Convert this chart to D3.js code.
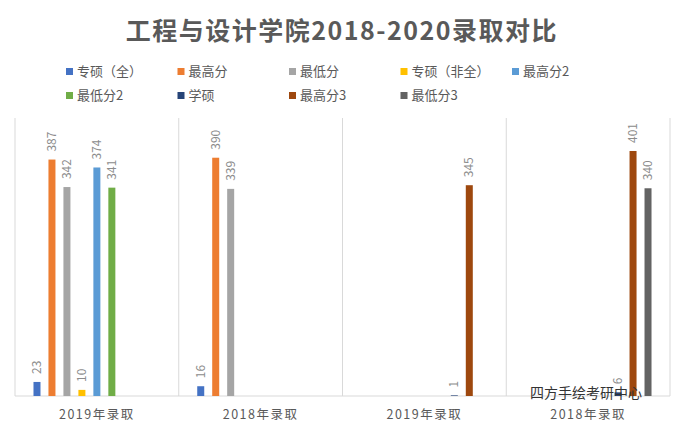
<!DOCTYPE html><html><head><meta charset="utf-8"><script src="https://cdn.jsdelivr.net/npm/d3@7"></script>
<style>body{margin:0;background:#fff}</style></head><body><svg id="c" width="684" height="432"></svg><script>
const categories=["2019年录取","2018年录取","2019年录取","2018年录取"];
const seriesNames=["专硕（全）","最高分","最低分","专硕（非全）","最高分2","最低分2","学硕","最高分3","最低分3"];
const s0=[23,16,null,null];
const s1=[387,390,null,null];
const s2=[342,339,null,null];
const s3=[10,null,null,null];
const s4=[374,null,null,null];
const s5=[341,null,null,null];
const s6=[null,null,1,6];
const s7=[null,null,345,401];
const s8=[null,null,null,340];
const values=[s0,s1,s2,s3,s4,s5,s6,s7,s8];
const colors=["#4472C4","#ED7D31","#A5A5A5","#FFC000","#5B9BD5","#70AD47","#264478","#9E480E","#636363"];
const svg=d3.select("#c");const F="'Noto Sans CJK SC','Noto Sans',sans-serif";
svg.append("text").attr("x",342).attr("y",40).attr("text-anchor","middle").attr("font-family",F).attr("font-weight","bold").attr("font-size",25).attr("fill","#595959").attr("letter-spacing",1.5).text("工程与设计学院2018-2020录取对比");
const x0=d3.scaleBand().domain(d3.range(4)).range([15,670]);
const x1=d3.scaleBand().domain(d3.range(9)).range([14.5,x0.bandwidth()-14.5]);
const y=d3.scaleLinear().domain([0,455]).range([396,118]);
const g=svg.append("g");
d3.range(5).forEach(i=>{const xv=i<4?x0(i):670;g.append("line").attr("x1",xv).attr("x2",xv).attr("y1",118).attr("y2",396).attr("stroke","#d9d9d9");});
g.append("line").attr("x1",15).attr("x2",670).attr("y1",396).attr("y2",396).attr("stroke","#d9d9d9");
values.forEach((arr,si)=>arr.forEach((v,ci)=>{if(v==null)return;const cx=x0(ci)+x1(si)+x1.bandwidth()/2;
g.append("rect").attr("x",cx-3.5).attr("width",7).attr("y",y(v)).attr("height",396-y(v)).attr("fill",colors[si]);
g.append("text").attr("transform",`translate(${cx+4},${y(v)-8}) rotate(-90)`).attr("font-family",F).attr("font-size",12).attr("fill","#8c8c8c").text(v);}));
categories.forEach((c,i)=>svg.append("text").attr("x",x0(i)+x0.bandwidth()/2).attr("y",419).attr("text-anchor","middle").attr("font-family",F).attr("font-size",12.5).attr("letter-spacing",1.5).attr("fill","#595959").text(c));
seriesNames.forEach((n,i)=>{const lx=66+(i%5)*111.5,ly=i<5?72:96;
svg.append("rect").attr("x",lx).attr("y",ly-4).attr("width",7).attr("height",7).attr("fill",colors[i]);
svg.append("text").attr("x",lx+11).attr("y",ly+4).attr("font-family",F).attr("font-size",13).attr("fill","#595959").text(n);});
svg.append("text").attr("x",530).attr("y",398).attr("font-family",F).attr("font-size",14).attr("fill","#333").text("四方手绘考研中心");
</script></body></html>
